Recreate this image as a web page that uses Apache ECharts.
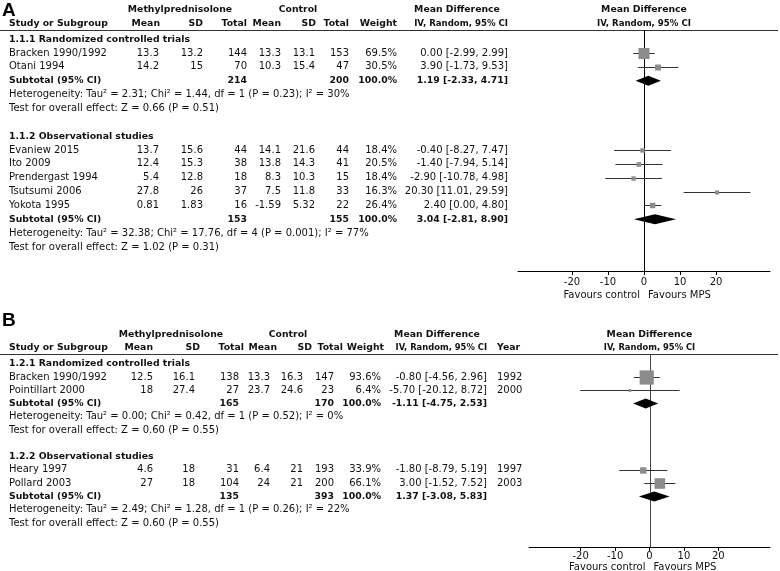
<!DOCTYPE html>
<html><head><meta charset="utf-8">
<script src="https://cdn.jsdelivr.net/npm/echarts@6/dist/echarts.min.js"></script>
<style>html,body{margin:0;padding:0;background:#fff}#c{width:780px;height:571px}</style>
</head><body><div id="c"></div><script>
// ---------- Panel A data ----------
const groupLabelsA = ['1.1.1 Randomized controlled trials', '1.1.2 Observational studies'];
const studiesA = ['Bracken 1990/1992', 'Otani 1994', 'Evaniew 2015', 'Ito 2009', 'Prendergast 1994', 'Tsutsumi 2006', 'Yokota 1995'];
const groupOfA = [0, 0, 1, 1, 1, 1, 1];
const mpsMeanA = [13.3, 14.2, 13.7, 12.4, 5.4, 27.8, 0.81];
const mpsSdA = [13.2, 15, 15.6, 15.3, 12.8, 26, 1.83];
const mpsNA = [144, 70, 44, 38, 18, 37, 16];
const ctlMeanA = [13.3, 10.3, 14.1, 13.8, 8.3, 7.5, -1.59];
const ctlSdA = [13.1, 15.4, 21.6, 14.3, 10.3, 11.8, 5.32];
const ctlNA = [153, 47, 44, 41, 15, 33, 22];
const weightA = [69.5, 30.5, 18.4, 20.5, 18.4, 16.3, 26.4];
const mdA = [0.00, 3.90, -0.40, -1.40, -2.90, 20.30, 2.40];
const loA = [-2.99, -1.73, -8.27, -7.94, -10.78, 11.01, 0.00];
const hiA = [2.99, 9.53, 7.47, 5.14, 4.98, 29.59, 4.80];
const subMpsNA = [214, 153];
const subCtlNA = [200, 155];
const subMdA = [1.19, 3.04];
const subLoA = [-2.33, -2.81];
const subHiA = [4.71, 8.90];
const hetA = ['Heterogeneity: Tau² = 2.31; Chi² = 1.44, df = 1 (P = 0.23); I² = 30%',
              'Heterogeneity: Tau² = 32.38; Chi² = 17.76, df = 4 (P = 0.001); I² = 77%'];
const testA = ['Test for overall effect: Z = 0.66 (P = 0.51)', 'Test for overall effect: Z = 1.02 (P = 0.31)'];

// ---------- Panel B data ----------
const groupLabelsB = ['1.2.1 Randomized controlled trials', '1.2.2 Observational studies'];
const studiesB = ['Bracken 1990/1992', 'Pointillart 2000', 'Heary 1997', 'Pollard 2003'];
const groupOfB = [0, 0, 1, 1];
const mpsMeanB = [12.5, 18, 4.6, 27];
const mpsSdB = [16.1, 27.4, 18, 18];
const mpsNB = [138, 27, 31, 104];
const ctlMeanB = [13.3, 23.7, 6.4, 24];
const ctlSdB = [16.3, 24.6, 21, 21];
const ctlNB = [147, 23, 193, 200];
const weightB = [93.6, 6.4, 33.9, 66.1];
const mdB = [-0.80, -5.70, -1.80, 3.00];
const loB = [-4.56, -20.12, -8.79, -1.52];
const hiB = [2.96, 8.72, 5.19, 7.52];
const yearB = [1992, 2000, 1997, 2003];
const subMpsNB = [165, 135];
const subCtlNB = [170, 393];
const subMdB = [-1.11, 1.37];
const subLoB = [-4.75, -3.08];
const subHiB = [2.53, 5.83];
const hetB = ['Heterogeneity: Tau² = 0.00; Chi² = 0.42, df = 1 (P = 0.52); I² = 0%',
              'Heterogeneity: Tau² = 2.49; Chi² = 1.28, df = 1 (P = 0.26); I² = 22%'];
const testB = ['Test for overall effect: Z = 0.60 (P = 0.55)', 'Test for overall effect: Z = 0.60 (P = 0.55)'];

// ---------- Axis / header text ----------
const xTicks = [-20, -10, 0, 10, 20];
const xMin = -35, xMax = 35;
const favoursLeft = 'Favours control';
const favoursRight = 'Favours MPS';
const headMps = 'Methylprednisolone', headCtl = 'Control';
const headCols = ['Study or Subgroup', 'Mean', 'SD', 'Total', 'Mean', 'SD', 'Total', 'Weight'];
const headMd1 = 'Mean Difference', headMd2 = 'IV, Random, 95% CI';

// ---------- Layout / style ----------
const FONT = 'DejaVu Sans';
const FS = 10;       // regular text
const FSB = 9.3;     // bold text
const TXT = '#111';
const layA = {
  label: 'A', labelY: 1, rowY1: 53, rowH: 13.86, top: 30, bottom: 271, left: 518, right: 770,
  headY1: 10, headY2: 24, mpsCenter: 180, ctlCenter: 298, mdCenter: 457, ivSize: 8.6,
  tickMargin: 6, favOff: 24, zeroColor: '#000',
  cols: {name: 9, mpsMean: 159, mpsSd: 203, mpsN: 247, ctlMean: 281, ctlSd: 315, ctlN: 349, weight: 397, ci: 508},
  headCols: [9, 160, 203, 247, 281, 316, 349, 397]
};
const layB = {
  label: 'B', labelY: 311, rowY1: 377, rowH: 13.27, top: 354, bottom: 547, left: 529, right: 770,
  headY1: 335, headY2: 348, mpsCenter: 171, ctlCenter: 288, mdCenter: 437, ivSize: 8.4,
  tickMargin: 4, favOff: 20, zeroColor: '#444',
  cols: {name: 9, mpsMean: 153, mpsSd: 195, mpsN: 239, ctlMean: 270, ctlSd: 303, ctlN: 334, weight: 381, ci: 487, year: 497},
  headCols: [9, 153, 200, 244, 277, 312, 343, 384]
};
[layA, layB].forEach(L => {
  L.yMin = 1 + (L.top - L.rowY1) / L.rowH;
  L.yMax = 1 + (L.bottom - L.rowY1) / L.rowH;
});

function fmtCI(m, l, h) { return m.toFixed(2) + ' [' + l.toFixed(2) + ', ' + h.toFixed(2) + ']'; }

function buildPanel(P) {
  const rows = [];
  const studyRow = [], subRow = [];
  let r = 0;
  for (let g = 0; g < 2; g++) {
    rows.push({r: r++, kind: 'group', text: P.groupLabels[g]});
    P.studies.forEach((s, i) => {
      if (P.groupOf[i] !== g) return;
      studyRow[i] = r;
      rows.push({r: r++, kind: 'study', i});
    });
    subRow[g] = r;
    rows.push({r: r++, kind: 'sub', g});
    rows.push({r: r++, kind: 'plain', text: P.het[g]});
    rows.push({r: r++, kind: 'plain', text: P.test[g]});
    r++;
  }
  return {rows, studyRow, subRow};
}

function txt(x, y, text, align, bold, size) {
  return {type: 'text', x, y, style: {text: String(text), fontFamily: FONT, fontSize: size || (bold ? FSB : FS),
    fontWeight: bold ? 'bold' : 'normal', fill: TXT, align: align, verticalAlign: 'middle'}};
}

function panelSeries(P, L, gi) {
  const B = buildPanel(P);
  const C = L.cols;
  const series = [];
  // table text rows
  series.push({
    type: 'custom', xAxisIndex: gi, yAxisIndex: gi, clip: false, silent: true,
    data: B.rows.map(o => [0, o.r]),
    encode: {x: 0, y: 1},
    renderItem(params, api) {
      const o = B.rows[params.dataIndex];
      const y = api.coord([0, api.value(1)])[1];
      const ch = [];
      if (o.kind === 'group') ch.push(txt(C.name, y, o.text, 'left', true));
      else if (o.kind === 'plain') ch.push(txt(C.name, y, o.text, 'left', false));
      else if (o.kind === 'study') {
        const i = o.i;
        ch.push(txt(C.name, y, P.studies[i], 'left', false));
        ch.push(txt(C.mpsMean, y, P.mpsMean[i], 'right'));
        ch.push(txt(C.mpsSd, y, P.mpsSd[i], 'right'));
        ch.push(txt(C.mpsN, y, P.mpsN[i], 'right'));
        ch.push(txt(C.ctlMean, y, P.ctlMean[i], 'right'));
        ch.push(txt(C.ctlSd, y, P.ctlSd[i], 'right'));
        ch.push(txt(C.ctlN, y, P.ctlN[i], 'right'));
        ch.push(txt(C.weight, y, P.weight[i].toFixed(1) + '%', 'right'));
        ch.push(txt(C.ci, y, fmtCI(P.md[i], P.lo[i], P.hi[i]), 'right'));
        if (P.year) ch.push(txt(C.year, y, P.year[i], 'left'));
      } else if (o.kind === 'sub') {
        const g = o.g;
        ch.push(txt(C.name, y, 'Subtotal (95% CI)', 'left', true));
        ch.push(txt(C.mpsN, y, P.subMpsN[g], 'right', true));
        ch.push(txt(C.ctlN, y, P.subCtlN[g], 'right', true));
        ch.push(txt(C.weight, y, '100.0%', 'right', true));
        ch.push(txt(C.ci, y, fmtCI(P.subMd[g], P.subLo[g], P.subHi[g]), 'right', true));
      }
      return {type: 'group', children: ch};
    }
  });
  // zero line, plot header, favours labels
  series.push({
    type: 'custom', xAxisIndex: gi, yAxisIndex: gi, clip: false, silent: true,
    data: [[0, 0]], encode: {x: 0, y: 1},
    renderItem(params, api) {
      const t = api.coord([0, L.yMin]);
      const b = api.coord([0, L.yMax]);
      const zx = Math.round(t[0]) + 0.5;
      return {type: 'group', children: [
        {type: 'line', shape: {x1: zx, y1: t[1], x2: zx, y2: b[1]}, style: {stroke: L.zeroColor, lineWidth: 1}},
        txt(t[0], L.headY1, headMd1, 'center', true),
        txt(t[0], L.headY2, headMd2, 'center', true, L.ivSize),
        txt(t[0] - 4, b[1] + L.favOff, favoursLeft, 'right', false),
        txt(t[0] + 4, b[1] + L.favOff, favoursRight, 'left', false)
      ]};
    }
  });
  // study squares with CI lines
  series.push({
    type: 'custom', xAxisIndex: gi, yAxisIndex: gi, clip: false, silent: true,
    data: P.md.map((m, i) => [m, P.lo[i], P.hi[i], B.studyRow[i], P.weight[i]]),
    encode: {x: [0, 1, 2], y: 3},
    renderItem(params, api) {
      const r = api.value(3);
      const c = api.coord([api.value(0), r]);
      const l = api.coord([api.value(1), r]);
      const h = api.coord([api.value(2), r]);
      const s = 2 + api.value(4) * 0.13;
      const y = Math.round(c[1]) + 0.5;
      return {type: 'group', children: [
        {type: 'line', shape: {x1: l[0], y1: y, x2: h[0], y2: y}, style: {stroke: '#333', lineWidth: 1}},
        {type: 'rect', shape: {x: c[0] - s / 2, y: y - s / 2, width: s, height: s}, style: {fill: '#8c8c8c'}}
      ]};
    }
  });
  // subtotal diamonds
  series.push({
    type: 'custom', xAxisIndex: gi, yAxisIndex: gi, clip: false, silent: true,
    data: P.subMd.map((m, g) => [m, P.subLo[g], P.subHi[g], B.subRow[g]]),
    encode: {x: [0, 1, 2], y: 3},
    renderItem(params, api) {
      const r = api.value(3);
      const c = api.coord([api.value(0), r]);
      const l = api.coord([api.value(1), r]);
      const h = api.coord([api.value(2), r]);
      const hh = 5;
      return {type: 'polygon', shape: {points: [[l[0], c[1]], [c[0], c[1] - hh], [h[0], c[1]], [c[0], c[1] + hh]]},
        style: {fill: '#000'}};
    }
  });
  return series;
}

const PA = {groupLabels: groupLabelsA, studies: studiesA, groupOf: groupOfA, mpsMean: mpsMeanA, mpsSd: mpsSdA, mpsN: mpsNA,
  ctlMean: ctlMeanA, ctlSd: ctlSdA, ctlN: ctlNA, weight: weightA, md: mdA, lo: loA, hi: hiA,
  subMpsN: subMpsNA, subCtlN: subCtlNA, subMd: subMdA, subLo: subLoA, subHi: subHiA, het: hetA, test: testA};
const PB = {groupLabels: groupLabelsB, studies: studiesB, groupOf: groupOfB, mpsMean: mpsMeanB, mpsSd: mpsSdB, mpsN: mpsNB,
  ctlMean: ctlMeanB, ctlSd: ctlSdB, ctlN: ctlNB, weight: weightB, md: mdB, lo: loB, hi: hiB, year: yearB,
  subMpsN: subMpsNB, subCtlN: subCtlNB, subMd: subMdB, subLo: subLoB, subHi: subHiB, het: hetB, test: testB};

function headerGraphics(L, withYear) {
  const g = [];
  g.push({type: 'text', left: 2, top: L.labelY, style: {text: L.label, fontFamily: 'Liberation Sans', fontSize: 19, fontWeight: 'bold', fill: '#000'}});
  g.push(txt(L.mpsCenter, L.headY1, headMps, 'center', true));
  g.push(txt(L.ctlCenter, L.headY1, headCtl, 'center', true));
  headCols.forEach((h, k) => g.push(txt(L.headCols[k], L.headY2, h, k === 0 ? 'left' : 'right', true)));
  g.push(txt(L.mdCenter, L.headY1, headMd1, 'center', true));
  g.push(txt(L.cols.ci, L.headY2, headMd2, 'right', true, L.ivSize));
  if (withYear) g.push(txt(L.cols.year, L.headY2, 'Year', 'left', true));
  g.push({type: 'line', shape: {x1: 0, y1: L.top + 0.5, x2: 778, y2: L.top + 0.5}, style: {stroke: '#333', lineWidth: 1}});
  return g;
}

function xAxisFor(gi, L) {
  return {gridIndex: gi, type: 'value', min: xMin, max: xMax,
    axisLine: {onZero: false, lineStyle: {color: '#000', width: 1}},
    axisTick: {show: true, customValues: xTicks, length: 4, lineStyle: {color: '#000'}},
    axisLabel: {customValues: xTicks, fontFamily: FONT, fontSize: FS, color: TXT, margin: L.tickMargin},
    splitLine: {show: false}};
}

const chart = echarts.init(document.getElementById('c'), null, {renderer: 'canvas'});
chart.setOption({
  animation: false,
  backgroundColor: '#fff',
  grid: [
    {left: layA.left, top: layA.top, width: layA.right - layA.left, height: layA.bottom - layA.top},
    {left: layB.left, top: layB.top, width: layB.right - layB.left, height: layB.bottom - layB.top}
  ],
  xAxis: [xAxisFor(0, layA), xAxisFor(1, layB)],
  yAxis: [
    {gridIndex: 0, type: 'value', inverse: true, min: layA.yMin, max: layA.yMax, show: false},
    {gridIndex: 1, type: 'value', inverse: true, min: layB.yMin, max: layB.yMax, show: false}
  ],
  graphic: headerGraphics(layA, false).concat(headerGraphics(layB, true)),
  series: panelSeries(PA, layA, 0).concat(panelSeries(PB, layB, 1))
});
</script></body></html>
